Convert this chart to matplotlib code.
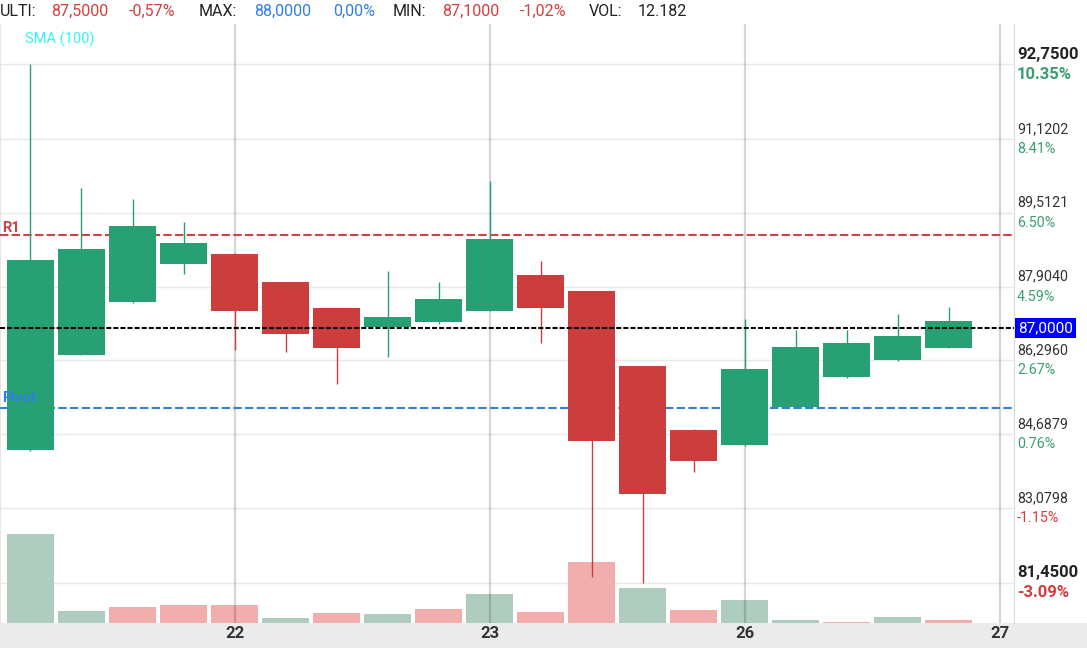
import numpy as np
import matplotlib
matplotlib.use("Agg")
import matplotlib.pyplot as plt
from matplotlib.patches import Rectangle

plt.rcParams['font.family'] = ['Roboto', 'DejaVu Sans']

# candles (one per slot, 5 per day), prices
opens  = [84.35, 86.42, 87.57, 88.40, 88.61, 88.00, 87.44, 87.02, 87.14, 87.38,
          88.16, 87.81, 86.18, 84.78, 84.46, 85.28, 85.94, 86.31, 86.57]
highs  = [92.75, 90.05, 89.81, 89.31, 88.63, 88.00, 87.44, 88.24, 88.00, 90.20,
          88.46, 87.81, 86.18, 84.80, 87.20, 86.96, 86.96, 87.31, 87.46]
lows   = [84.32, 86.42, 87.55, 88.18, 86.53, 86.49, 85.79, 86.38, 87.10, 87.38,
          86.68, 81.57, 81.45, 83.87, 84.44, 85.26, 85.91, 86.28, 86.57]
closes = [88.48, 88.72, 89.22, 88.85, 87.38, 86.88, 86.57, 87.24, 87.63, 88.94,
          87.44, 84.55, 83.39, 84.11, 86.11, 86.59, 86.68, 86.83, 87.15]
volumes = [890, 120, 160, 180, 180, 50, 100, 90, 140, 290,
           110, 610, 350, 130, 230, 30, 10, 60, 30]
vol_up = [1, 1, 0, 0, 0, 1, 0, 1, 0, 1, 0, 0, 1, 0, 1, 1, 0, 1, 0]

day_pos = [4, 9, 14, 19]
day_labels = ['22', '23', '26', '27']

price_ticks = [92.75, 91.1202, 89.5121, 87.904, 86.296, 84.6879, 83.0798, 81.45]
base_price = 84.05   # reference for the % labels

r1 = 89.03
pivot = 85.25
last_line = 87.0

GREEN = '#27a074'
RED = '#cc3d3d'
VGREEN = '#afcdbf'
VRED = '#f2adad'

W, H = 1087, 648
fig = plt.figure(figsize=(W / 100, H / 100), dpi=100)
fig.patch.set_facecolor('white')

# gray band for the date axis
fig.patches.append(Rectangle((0, 0), 1, 25 / H, transform=fig.transFigure,
                             facecolor='#ebebeb', edgecolor='none', zorder=-5))

rect = [0, 25 / H, 1014 / W, 599 / H]
axv = fig.add_axes(rect)
ax = fig.add_axes(rect)
ax.patch.set_visible(False)

xlim = (-0.598, 19.284)
ylim = (80.579, 93.621)

# background: grid, volume, day lines
axv.set_xlim(*xlim)
axv.set_ylim(0, max(volumes) * 599 / 89)
axv.set_facecolor('white')
for p in price_ticks:
    frac = (p - ylim[0]) / (ylim[1] - ylim[0])
    axv.axhline(frac * axv.get_ylim()[1], xmax=1012 / 1014, color='#e8e8e8', lw=1, zorder=0)
x = np.arange(len(volumes))
axv.bar(x, volumes, width=0.92, color=[VGREEN if u else VRED for u in vol_up],
        zorder=1, linewidth=0)
for d in day_pos:
    axv.axvline(d, color='black', alpha=0.16, lw=1.6, zorder=2)
axv.set_yticks([])
axv.set_xticks([])
for s in axv.spines.values():
    s.set_visible(False)
axv.spines['right'].set_visible(True)
axv.spines['right'].set_color('#dadada')
axv.spines['left'].set_visible(True)
axv.spines['left'].set_color('#e6e6e6')

# price axes
ax.set_xlim(*xlim)
ax.set_ylim(*ylim)
ax.axhline(r1, color='#d04242', lw=1.5, dashes=(4, 1.6), zorder=3)
ax.axhline(pivot, color='#2f80df', lw=1.5, dashes=(4, 1.6), zorder=3)
ax.axhline(last_line, color='black', lw=1.5, dashes=(2.4, 1.0), zorder=5)

for i in range(len(opens)):
    col = GREEN if closes[i] >= opens[i] else RED
    ax.vlines(i, lows[i], highs[i], color=col, lw=1, zorder=4)
    lo, hi = min(opens[i], closes[i]), max(opens[i], closes[i])
    ax.add_patch(Rectangle((i - 0.46, lo), 0.92, hi - lo, facecolor=col,
                           edgecolor='none', zorder=4))

ax.text(2 / 1014, r1, 'R1', transform=ax.get_yaxis_transform(), color='#d04242',
        fontsize=10.5, fontweight='bold', va='bottom', ha='left', zorder=6)
ax.annotate('Pivot', xy=(0, pivot), xycoords=('axes fraction', 'data'),
            xytext=(2, 10), textcoords='offset pixels', color='#2f80df',
            fontsize=10.5, fontweight='bold', va='center', ha='left', zorder=6)
ax.text(25 / 1014, 1 - 15 / 599, 'SMA (100)', transform=ax.transAxes,
        color='#33f5f5', fontsize=10.5, va='center', ha='left')

# right side price labels
for k, p in enumerate(price_ticks):
    pct = (p / base_price - 1) * 100
    edge = k in (0, len(price_ticks) - 1)
    pcol = '#3a9e70' if pct >= 0 else '#d83b3b'
    ax.annotate(f'{p:.4f}'.replace('.', ','), xy=(1, p), xycoords=('axes fraction', 'data'),
                xytext=(3, 10), textcoords='offset pixels', ha='left', va='center',
                fontsize=12 if edge else 10.3, fontweight='bold' if edge else 'normal',
                color='#222222' if edge else '#333333', annotation_clip=False)
    ax.annotate(f'{pct:.2f}%', xy=(1, p), xycoords=('axes fraction', 'data'),
                xytext=(3, -10), textcoords='offset pixels', ha='left', va='center',
                fontsize=12 if edge else 10.3, fontweight='bold' if edge else 'normal',
                color=pcol, annotation_clip=False)

ax.annotate('87,0000', xy=(1, last_line), xycoords=('axes fraction', 'data'),
            xytext=(4, 0), textcoords='offset pixels', ha='left', va='center',
            fontsize=11, color='white', annotation_clip=False,
            bbox=dict(boxstyle='square,pad=0.18', fc='#0000ff', ec='none'))

ax.set_yticks([])
ax.set_xticks(day_pos)
ax.set_xticklabels(day_labels, fontsize=12, fontweight='bold', color='#333333')
ax.tick_params(axis='x', length=0, pad=2)
for s in ax.spines.values():
    s.set_visible(False)

# header line
header = [('ULTI:', 0, '#222222'), ('87,5000', 51, '#d2403f'), ('-0,57%', 129, '#d2403f'),
          ('MAX:', 199, '#222222'), ('88,0000', 254, '#2f7fe0'), ('0,00%', 333, '#2f7fe0'),
          ('MIN:', 393, '#222222'), ('87,1000', 442, '#d2403f'), ('-1,02%', 520, '#d2403f'),
          ('VOL:', 589, '#222222'), ('12.182', 638, '#222222')]
for txt, px, c in header:
    fig.text(px / W, 1 - 11 / H, txt, color=c, fontsize=11.5, ha='left', va='center')

fig.savefig('out.png', dpi=100)
